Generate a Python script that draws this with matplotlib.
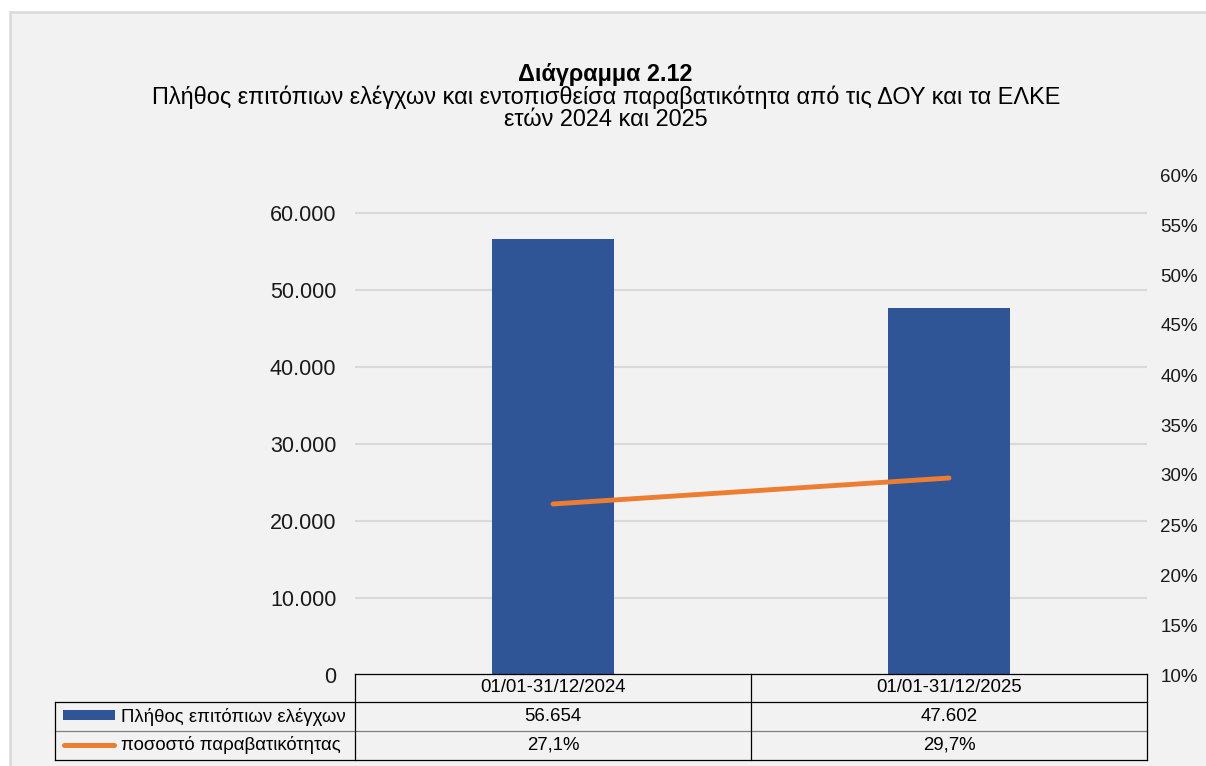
import matplotlib.pyplot as plt
import matplotlib.transforms as mtransforms
from matplotlib.lines import Line2D
from matplotlib.patches import Rectangle
from matplotlib.ticker import FuncFormatter

plt.rcParams["font.family"] = ["Liberation Sans", "DejaVu Sans"]

# Data
periods = ["01/01-31/12/2024", "01/01-31/12/2025"]
inspections = [56654, 47602]
violation_rate = [0.271, 0.297]
series_names = ["Πλήθος επιτόπιων ελέγχων", "ποσοστό παραβατικότητας"]
title_bold = "Διάγραμμα 2.12"
title_lines = [
    "Πλήθος επιτόπιων ελέγχων και εντοπισθείσα παραβατικότητα από τις ΔΟΥ και τα ΕΛΚΕ",
    "ετών 2024 και 2025",
]

BAR_COLOR = "#2F5597"
LINE_COLOR = "#ED7D31"
GRID_COLOR = "#D9D9D9"
BG_COLOR = "#F2F2F2"

W, H = 1206, 766


def fx(px):
    return px / W


def fy(py):
    return 1 - py / H


fig = plt.figure(figsize=(W / 100, H / 100), dpi=100, facecolor="white")

# Chart panel background with light border
fig.add_artist(
    Rectangle(
        (fx(10), -0.02), 1.05, fy(12) + 0.02,
        transform=fig.transFigure, facecolor=BG_COLOR,
        edgecolor=GRID_COLOR, linewidth=1.8, zorder=0,
    )
)

# Titles
fig.text(fx(605), fy(74), title_bold, ha="center", va="center",
         fontsize=16.8, fontweight="bold", color="black")
for i, line in enumerate(title_lines):
    fig.text(fx(606), fy(97.5 + 22.5 * i), line, ha="center", va="center",
             fontsize=16.9, color="black")

# Main axes
top_px, bottom_px, left_px, right_px = 175, 675, 355, 1147
ax = fig.add_axes([fx(left_px), fy(bottom_px), (right_px - left_px) / W,
                   (bottom_px - top_px) / H])
ax.set_facecolor("none")
x = list(range(len(periods)))
ax.bar(x, inspections, width=0.31, color=BAR_COLOR, zorder=2)
ax.set_xlim(-0.5, len(periods) - 0.5)
ax.set_ylim(0, 60000 * 500 / 462)
ax.set_yticks(range(0, 60001, 10000))
ax.yaxis.set_major_formatter(
    FuncFormatter(lambda v, p: f"{int(v):,}".replace(",", "."))
)
ax.set_axisbelow(True)
ax.grid(axis="y", color=GRID_COLOR, linewidth=1.5)
ax.set_xticks([])
ax.tick_params(axis="y", length=0, pad=13.5, labelsize=15.5, labelcolor="#1a1a1a")
for s in ax.spines.values():
    s.set_visible(False)

ax2 = ax.twinx()
ax2.plot(x, violation_rate, color=LINE_COLOR, linewidth=3.5,
         solid_capstyle="round", zorder=3)
ax2.set_ylim(0.10, 0.60)
ax2.set_yticks([0.10 + 0.05 * i for i in range(11)])
ax2.yaxis.set_major_formatter(FuncFormatter(lambda v, p: f"{round(v * 100)}%"))
ax2.tick_params(axis="y", length=0, pad=9.5, labelsize=13.5, labelcolor="#1a1a1a")
for s in ax2.spines.values():
    s.set_visible(False)

# Data table under the plot
trans = mtransforms.blended_transform_factory(ax.transData, fig.transFigure)
row_y = [674, 702, 731, 760]
legend_left = 55
table_fs = 13.4

# horizontal lines
fig.add_artist(Line2D([fx(left_px), fx(right_px)], [fy(row_y[0])] * 2,
                      color="black", linewidth=0.9, transform=fig.transFigure))
for yy, col in [(row_y[1], "black"), (row_y[2], "#7F7F7F"), (row_y[3], "black")]:
    fig.add_artist(Line2D([fx(legend_left), fx(right_px)], [fy(yy)] * 2,
                          color=col, linewidth=0.9, transform=fig.transFigure))
# vertical lines
fig.add_artist(Line2D([fx(legend_left)] * 2, [fy(row_y[1]), fy(row_y[3])],
                      color="black", linewidth=0.9, transform=fig.transFigure))
for xb in [i - 0.5 for i in range(len(periods) + 1)]:
    fig.add_artist(Line2D([xb, xb], [fy(row_y[0]), fy(row_y[3])],
                          color="black", linewidth=0.9, transform=trans))

# header and values
for i, p in enumerate(periods):
    fig.text(i, fy(688), p, transform=trans, ha="center", va="center",
             fontsize=table_fs, color="black")
    fig.text(i, fy(716.5), f"{inspections[i]:,}".replace(",", "."),
             transform=trans, ha="center", va="center", fontsize=table_fs)
    fig.text(i, fy(745.5), f"{violation_rate[i] * 100:.1f}%".replace(".", ","),
             transform=trans, ha="center", va="center", fontsize=table_fs)

# legend keys
fig.add_artist(Rectangle((fx(63), fy(720)), (115 - 63) / W, 10 / H,
                         facecolor=BAR_COLOR, edgecolor="none",
                         transform=fig.transFigure))
fig.add_artist(Line2D([fx(64), fx(114)], [fy(745)] * 2, color=LINE_COLOR,
                      linewidth=3.6, solid_capstyle="round",
                      transform=fig.transFigure))
fig.text(fx(121), fy(716.5), series_names[0], ha="left", va="center",
         fontsize=table_fs)
fig.text(fx(121), fy(745.5), series_names[1], ha="left", va="center",
         fontsize=table_fs)

fig.savefig("out.png", dpi=100, facecolor="white")
